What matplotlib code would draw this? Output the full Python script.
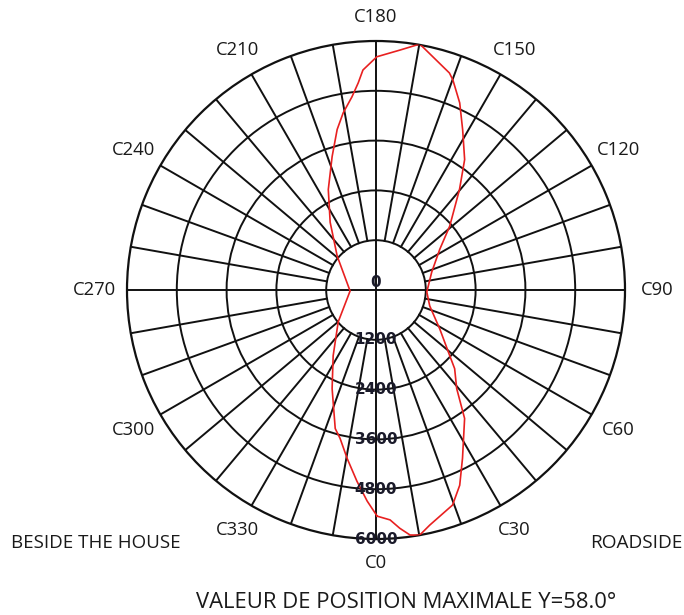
import numpy as np
import matplotlib
matplotlib.use("Agg")
import matplotlib.pyplot as plt

# ---- data ----
c_angles = [0.3, 3.5, 5.7, 7.9, 10.1, 12.9, 19.6, 23.2, 27.2, 34.6, 39.3, 45.0, 48.3,
            58.6, 73.5, 87.8, 107.8, 122.6, 130.9, 140.3, 145.8, 151.6, 155.9, 159.9,
            161.3, 169.9, 174.3, 179.8, 183.4, 184.9, 187.1, 190.5, 193.6, 198.2, 205.4,
            214.1, 228.9, 272.2, 310.1, 326.9, 336.0, 343.6, 346.4, 350.3, 354.3, 357.6]
intensity = [5450, 5550, 5770, 5960, 6000, 5810, 5500, 5120, 4560, 3760, 3070, 2680, 2380,
             1800, 1350, 1225, 1410, 1825, 2350, 3150, 3800, 4390, 4940, 5390,
             5520, 6020, 5810, 5620, 5310, 5010, 4690, 4340, 3980, 3385, 2680,
             1970, 1240, 625, 1190, 1890, 2600, 3480, 3680, 4120, 4630, 5090]
ring_values = [1200, 2400, 3600, 4800, 6000]
ring_labels = ["1200", "2400", "3600", "4800", "6000"]
c_label_angles = [0, 30, 60, 90, 120, 150, 180, 210, 240, 270, 300, 330]
c_labels = ["C0", "C30", "C60", "C90", "C120", "C150", "C180", "C210", "C240",
            "C270", "C300", "C330"]
spoke_step = 10
left_label = "BESIDE THE HOUSE"
right_label = "ROADSIDE"
title = "VALEUR DE POSITION MAXIMALE Y=58.0°"

plt.rcParams['font.family'] = ['Open Sans', 'DejaVu Sans']

W, H = 684, 615
fig = plt.figure(figsize=(W / 100, H / 100), dpi=100)
cx, cy, R = 376, 290, 249
ax = fig.add_axes([(cx - R) / W, (H - cy - R) / H, 2 * R / W, 2 * R / H], projection='polar')
ax.set_theta_zero_location('S')
ax.set_theta_direction(1)
rmax = ring_values[-1]
ax.set_ylim(0, rmax)
ax.set_xticks([])
ax.set_yticks(ring_values[:-1])
ax.set_yticklabels([])
ax.grid(False)
ax.yaxis.grid(True, color='#111111', linewidth=1.4)
ax.spines['polar'].set_color('#111111')
ax.spines['polar'].set_linewidth(1.6)

grid_kw = dict(color='#111111', linewidth=1.4, zorder=2)
for a in range(0, 360, spoke_step):
    th = np.deg2rad(a)
    r0 = 0 if a % 90 == 0 else ring_values[0]
    ax.plot([th, th], [r0, rmax], **grid_kw)

ax.plot(np.deg2rad(c_angles + c_angles[:1]), intensity + intensity[:1],
        color='#e82020', linewidth=1.2, zorder=3)

# ring labels along C0 direction
lab_kw = dict(fontsize=11, color='#1a1a2a', fontweight='bold', family='DejaVu Sans', zorder=4)
ax.text(0, 0, "0", ha='center', va='bottom', **lab_kw)
for v, lab in zip(ring_values, ring_labels):
    ax.text(0, v, lab, ha='center', va='center', **lab_kw)

for a, lab in zip(c_label_angles, c_labels):
    th = np.deg2rad(a)
    rr = rmax * (1.095 + 0.035 * abs(np.sin(th)))
    ax.text(th, rr, lab, ha='center', va='center', fontsize=13.3, color='#1a1a1a',
            clip_on=False)

fig.text(96 / W, 1 - 543 / H, left_label, ha='center', va='center', fontsize=13.5, color='#1a1a1a')
fig.text(636 / W, 1 - 543 / H, right_label, ha='center', va='center', fontsize=13.7, color='#1a1a1a')
fig.text(406 / W, 1 - 603 / H, title, ha='center', va='center', fontsize=15.8, color='#1a1a1a')

fig.savefig("out.png", dpi=100)
